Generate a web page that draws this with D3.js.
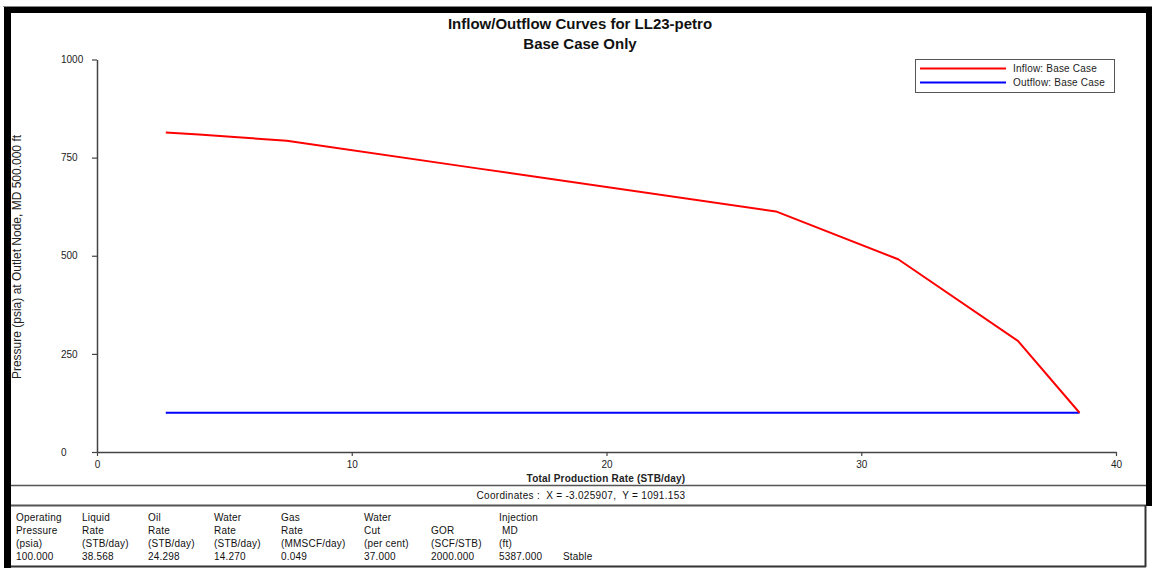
<!DOCTYPE html>
<html>
<head>
<meta charset="utf-8">
<script src="https://cdn.jsdelivr.net/npm/d3@7"></script>
<style>
  html, body { margin: 0; padding: 0; background: #fff; }
  svg { display: block; font-family: Arial, "Liberation Sans", sans-serif; }
</style>
</head>
<body>
<svg id="chart" width="1152" height="568"></svg>
<script>
// Inflow (IPR) curve: total production rate (STB/day) vs pressure (psia)
const inflowRate     = [2.70, 4.00, 5.25, 7.45, 15.00, 26.65, 31.45, 36.15, 38.568];
const inflowPressure = [814, 809, 803, 793, 722, 613, 491, 283, 100];

// Outflow (VLP) curve at the outlet node
const outflowRate     = [2.70, 38.568];
const outflowPressure = [100, 100];

const xTicks = [0, 10, 20, 30, 40];
const yTicks = [0, 250, 500, 750, 1000];

const seriesNames  = ["Inflow: Base Case", "Outflow: Base Case"];
const seriesColors = ["#ff0000", "#0000ff"];

const titleLines = ["Inflow/Outflow Curves for LL23-petro", "Base Case Only"];
const xTitle = "Total Production Rate (STB/day)";
const yTitle = "Pressure (psia) at Outlet Node, MD 500.000 ft";
const coordText = "Coordinates :  X = -3.025907,  Y = 1091.153";

// Solution summary table (header lines per column, then value)
const tableHeaders = [
  ["Operating", "Pressure", "(psia)"],
  ["Liquid", "Rate", "(STB/day)"],
  ["Oil", "Rate", "(STB/day)"],
  ["Water", "Rate", "(STB/day)"],
  ["Gas", "Rate", "(MMSCF/day)"],
  ["Water", "Cut", "(per cent)"],
  ["", "GOR", "(SCF/STB)"],
  ["Injection", " MD", "(ft)"],
  ["", "", ""]
];
const tableValues = ["100.000", "38.568", "24.298", "14.270", "0.049", "37.000", "2000.000", "5387.000", "Stable"];

const svg = d3.select("#chart");

// ----- frame -----
svg.append("rect").attr("x", 0).attr("y", 0).attr("width", 1152).attr("height", 568).attr("fill", "#fff");
// thick black window border
svg.append("rect").attr("x", 4).attr("y", 7).attr("width", 7).attr("height", 561).attr("fill", "#000");
svg.append("rect").attr("x", 4).attr("y", 7).attr("width", 1148).attr("height", 6).attr("fill", "#000");
svg.append("rect").attr("x", 1146).attr("y", 7).attr("width", 6).attr("height", 499).attr("fill", "#000");
svg.append("line").attr("x1", 3).attr("x2", 1152).attr("y1", 6.5).attr("y2", 6.5).attr("stroke", "#888").attr("stroke-width", 1);

// panel separators
const sep = svg.append("g").attr("stroke", "#555");
sep.append("line").attr("x1", 11).attr("x2", 1146).attr("y1", 485.5).attr("y2", 485.5).attr("stroke-width", 1.5);
sep.append("line").attr("x1", 11).attr("x2", 1146).attr("y1", 505.5).attr("y2", 505.5).attr("stroke-width", 2);
sep.append("line").attr("x1", 11).attr("x2", 1146).attr("y1", 566.5).attr("y2", 566.5).attr("stroke-width", 2).attr("stroke", "#333");
sep.append("line").attr("x1", 1145.5).attr("x2", 1145.5).attr("y1", 505).attr("y2", 567).attr("stroke-width", 2).attr("stroke", "#333");

// ----- scales -----
const x = d3.scaleLinear().domain([0, 40]).range([97, 1116]);
const y = d3.scaleLinear().domain([0, 1000]).range([452, 59.5]);

// ----- axes -----
const axisColor = "#444";
const gx = svg.append("g").attr("transform", `translate(0,${y(0)})`)
  .call(d3.axisBottom(x).tickValues(xTicks).tickSize(4).tickSizeOuter(0).tickFormat(d3.format("d")));
gx.selectAll("text").attr("y", 9).attr("font-size", 10).attr("fill", "#222").attr("font-family", "Arial, 'Liberation Sans', sans-serif");

const gy = svg.append("g").attr("transform", `translate(${x(0)},0)`)
  .call(d3.axisLeft(y).tickValues(yTicks).tickSize(5).tickSizeOuter(0).tickFormat(d3.format("d")));
gy.selectAll("text").attr("x", 61 - x(0)).attr("text-anchor", "start")
  .attr("font-size", 10).attr("fill", "#222").attr("font-family", "Arial, 'Liberation Sans', sans-serif");

[gx, gy].forEach(g => {
  g.select(".domain").attr("stroke", axisColor).attr("stroke-width", 1.5);
  g.selectAll(".tick line").attr("stroke", axisColor).attr("stroke-width", 1.2);
});

// ----- curves -----
const line = d3.line().x(d => x(d[0])).y(d => y(d[1]));
const outflowPts = outflowRate.map((r, i) => [r, outflowPressure[i]]);
const inflowPts = inflowRate.map((r, i) => [r, inflowPressure[i]]);

svg.append("path").datum(outflowPts).attr("d", line)
  .attr("fill", "none").attr("stroke", seriesColors[1]).attr("stroke-width", 2);
svg.append("path").datum(inflowPts).attr("d", line)
  .attr("fill", "none").attr("stroke", seriesColors[0]).attr("stroke-width", 2)
  .attr("stroke-linejoin", "round");

// ----- titles -----
svg.selectAll("text.title").data(titleLines).join("text")
  .attr("class", "title")
  .attr("x", 580).attr("y", (d, i) => 29 + i * 19.5)
  .attr("text-anchor", "middle").attr("font-size", 15).attr("font-weight", "bold").attr("fill", "#111")
  .text(d => d);

svg.append("text")
  .attr("x", 606).attr("y", 482)
  .attr("text-anchor", "middle").attr("font-size", 10).attr("font-weight", "bold").attr("fill", "#222")
  .attr("letter-spacing", 0.2)
  .text(xTitle);

svg.append("text")
  .attr("transform", `translate(21,257) rotate(-90)`)
  .attr("text-anchor", "middle").attr("font-size", 12).attr("fill", "#222")
  .text(yTitle);

// ----- legend -----
const lg = svg.append("g");
lg.append("rect").attr("x", 915.5).attr("y", 59.5).attr("width", 199).attr("height", 33)
  .attr("fill", "#fff").attr("stroke", "#555").attr("stroke-width", 1);
seriesNames.forEach((name, i) => {
  const ly = 68.5 + i * 14;
  lg.append("line").attr("x1", 920).attr("x2", 1006).attr("y1", ly).attr("y2", ly)
    .attr("stroke", seriesColors[i]).attr("stroke-width", 2);
  lg.append("text").attr("x", 1013).attr("y", ly + 3.5).attr("font-size", 10).attr("fill", "#222")
    .attr("letter-spacing", 0.2).text(name);
});

// ----- coordinates readout -----
svg.append("text").attr("x", 581).attr("y", 499)
  .attr("text-anchor", "middle").attr("font-size", 10).attr("fill", "#111")
  .attr("xml:space", "preserve").attr("letter-spacing", 0.3)
  .text(coordText);

// ----- summary table -----
const colX = [16, 82, 148, 214, 281, 364, 431, 499, 563];
const rowY = [521, 534, 547, 560];
const tbl = svg.append("g").attr("font-size", 10).attr("fill", "#111").attr("letter-spacing", 0.2);
tableHeaders.forEach((hdr, c) => {
  hdr.forEach((h, r) => {
    if (h) tbl.append("text").attr("x", colX[c]).attr("y", rowY[r]).attr("xml:space", "preserve").text(h);
  });
  tbl.append("text").attr("x", colX[c]).attr("y", rowY[3]).text(tableValues[c]);
});
</script>
</body>
</html>
